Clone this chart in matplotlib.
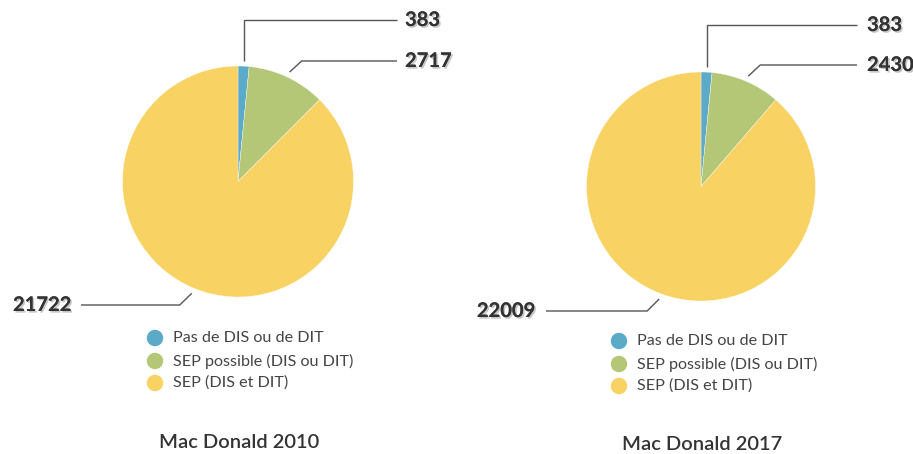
import numpy as np
import matplotlib
matplotlib.use("Agg")
import matplotlib.pyplot as plt
import matplotlib.patheffects as pe

categories = ["Pas de DIS ou de DIT", "SEP possible (DIS ou DIT)", "SEP (DIS et DIT)"]
values_2010 = [383, 2717, 21722]
values_2017 = [383, 2430, 22009]
titles = ["Mac Donald 2010", "Mac Donald 2017"]
colors = ["#5AAAC8", "#B3C776", "#F8D262"]

W, H = 913, 454
plt.rcParams['font.family'] = ['Lato', 'DejaVu Sans']

fig = plt.figure(figsize=(W / 100, H / 100), dpi=100)
ax = fig.add_axes([0, 0, 1, 1])

def Y(y):
    return H - y

panels = [
    dict(values=values_2010, cx=238, cy=181.5, r=115.5,
         label_y=[20, 61, 305], right_end=397, left_end=81,
         right_text=405, left_text=71,
         leg_x=155, leg_y=[338, 361, 383], title_xy=(239, 442), title=titles[0]),
    dict(values=values_2017, cx=701, cy=186.5, r=114.5,
         label_y=[25, 65, 311], right_end=857, left_end=546,
         right_text=867, left_text=535,
         leg_x=619, leg_y=[341, 364, 386], title_xy=(702, 444), title=titles[1]),
]
elbow_dx = [0, 12, -12]
shadow = [pe.withSimplePatchShadow(offset=(1.2, -1.2), shadow_rgbFace="#999999", alpha=0.55), pe.Normal()]

for p in panels:
    vals = p["values"]
    ax.pie(vals, colors=colors, startangle=90, counterclock=False,
           center=(p["cx"], Y(p["cy"])), radius=p["r"], frame=True,
           wedgeprops=dict(edgecolor="white", linewidth=0.25))
    total = float(sum(vals))
    cum = np.cumsum([0] + list(vals))
    for i, v in enumerate(vals):
        mid = (cum[i] + v / 2) / total * 2 * np.pi  # clockwise from top
        ra = p["r"] + 5.5
        ax_x = p["cx"] + ra * np.sin(mid)
        ax_y = p["cy"] - ra * np.cos(mid)
        ly = p["label_y"][i]
        ex = ax_x + elbow_dx[i]
        on_right = np.sin(mid) >= 0
        end_x = p["right_end"] if on_right else p["left_end"]
        ax.plot([ax_x, ex, end_x], [Y(ax_y), Y(ly), Y(ly)], color="#555555", lw=1.0,
                solid_capstyle="butt", solid_joinstyle="miter")
        if on_right:
            ax.text(p["right_text"], Y(ly), f"{v}", ha="left", va="center",
                    fontsize=14.5, fontweight="bold", color="#333333", path_effects=shadow)
        else:
            ax.text(p["left_text"], Y(ly), f"{v}", ha="right", va="center",
                    fontsize=14.5, fontweight="bold", color="#333333", path_effects=shadow)
    for i, cat in enumerate(categories):
        ax.scatter([p["leg_x"]], [Y(p["leg_y"][i])], s=140, color=colors[i], edgecolors="none")
        ax.text(p["leg_x"] + 18, Y(p["leg_y"][i]), cat, ha="left", va="center",
                fontsize=11.6, color="#444444")
    ax.text(p["title_xy"][0], Y(p["title_xy"][1]), p["title"], ha="center", va="center",
            fontsize=14.5, fontweight="semibold", color="#333333")

ax.set_xlim(0, W)
ax.set_ylim(0, H)
ax.set_aspect("auto")
ax.axis("off")
fig.savefig("out.png", dpi=100, facecolor="white")
